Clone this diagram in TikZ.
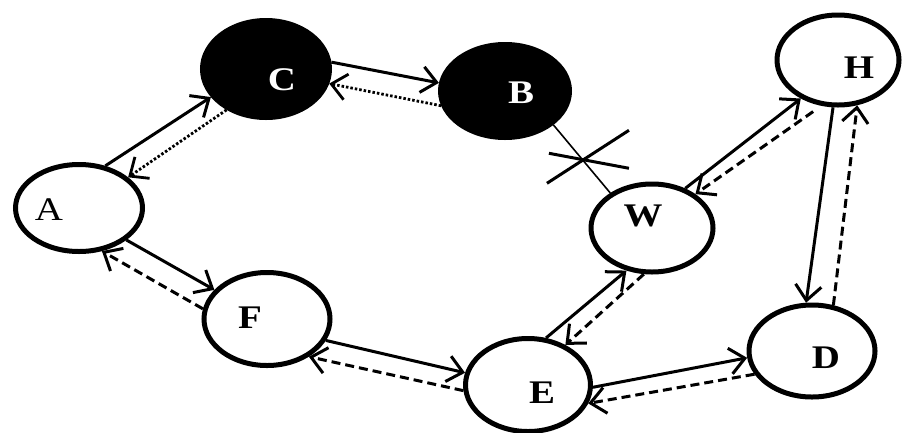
\documentclass[tikz,border=0pt]{standalone}
\usepackage{fontspec}
\usetikzlibrary{shapes.geometric,arrows.meta}
\newfontfamily\lblfont[FakeStretch=1.18]{Liberation Serif}
\begin{document}
\begin{tikzpicture}[x=1pt,y=-1pt,
  state/.style={ellipse, draw, line width=5pt, inner sep=0pt},
  blackstate/.style={state, fill=black},
  lbl/.style={font=\lblfont\bfseries\fontsize{33}{36}\selectfont, inner sep=0pt},
  lblreg/.style={font=\lblfont\fontsize{33}{36}\selectfont, inner sep=0pt},
  fwd/.style={line width=3pt, -{Straight Barb[length=15pt,width=26pt]}},
  back/.style={fwd, dash pattern=on 9pt off 5pt},
  dots/.style={fwd, line width=2.8pt, dash pattern=on 2.5pt off 2pt},
  thinlink/.style={line width=1.6pt},
  crossmark/.style={line width=3pt},
]
\useasboundingbox (0,0) rectangle (904,432);
% nodes
\node[state, minimum width=127pt, minimum height=87pt] (A) at (79,208) {};
\node[blackstate, minimum width=127pt, minimum height=97pt] (C) at (266,69) {};
\node[blackstate, minimum width=129pt, minimum height=93pt] (B) at (505,91) {};
\node[state, minimum width=122pt, minimum height=90pt] (H) at (838,60) {};
\node[state, minimum width=122pt, minimum height=88pt] (W) at (652,228) {};
\node[state, minimum width=126pt, minimum height=93pt] (F) at (267,319) {};
\node[state, minimum width=125pt, minimum height=93pt] (E) at (528,385) {};
\node[state, minimum width=126pt, minimum height=92pt] (D) at (812,351) {};
% labels
\node[lblreg] (lA) at (49,210) {A};
\node[lbl, text=white] (lC) at (282,80) {C};
\node[lbl, text=white] (lB) at (521,93) {B};
\node[lbl] (lH) at (859,68) {H};
\node[lbl] (lW) at (643,216) {W};
\node[lbl] (lF) at (250,318) {F};
\node[lbl] (lE) at (542,393) {E};
\node[lbl] (lD) at (826,358) {D};
% connectors
\draw[fwd] (A.58) -- (C.207);
\draw[dots] (C.226) -- (A.32);
\draw[fwd] (C.6) -- (B.173);
\draw[dots] (B.193) -- (C.347);
\draw[thinlink] (B.325) -- coordinate[pos=0.52] (X) (W.140);
\draw[crossmark] ([shift={(-36,23)}]X) -- ([shift={(46,-30)}]X);
\draw[crossmark] ([shift={(-34,-7)}]X) -- ([shift={(46,8)}]X);
\draw[fwd] (W.50) -- (H.226);
\draw[back, shorten <=10pt] (H.250) -- (W.38);
\draw[fwd] (H.264) -- (D.97);
\draw[back] (D.65) -- (H.293);
\draw[fwd] (A.326) -- (F.151);
\draw[back] (F.171) -- (A.298);
\draw[fwd] (F.340) -- (E.169.5);
\draw[back] (E.185) -- (F.318);
\draw[fwd] (E.69) -- (W.239);
\draw[back] (W.260) -- (E.47);
\draw[fwd] (E.358) -- (D.186);
\draw[back] (D.202) -- (E.343);
\end{tikzpicture}
\end{document}
